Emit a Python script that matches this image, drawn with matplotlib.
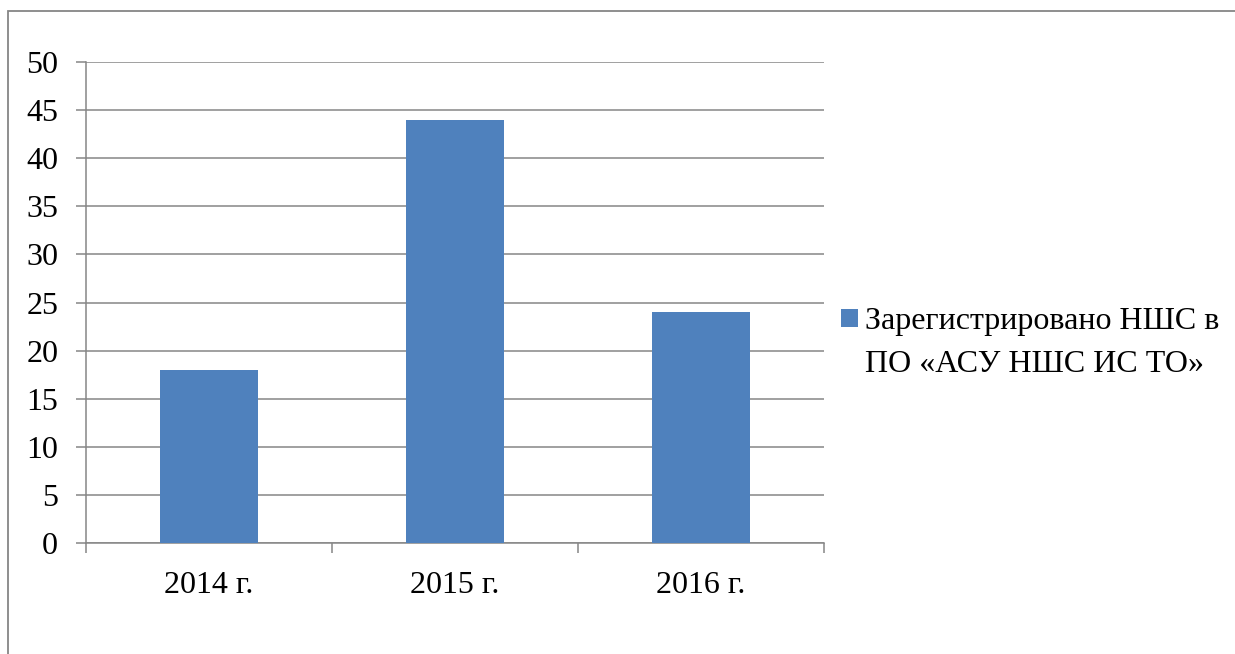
import matplotlib.pyplot as plt
from matplotlib.patches import Rectangle

categories = ["2014 г.", "2015 г.", "2016 г."]
values = [18, 44, 24]
series_label = ["Зарегистрировано НШС в", "ПО «АСУ НШС ИС ТО»"]
y_ticks = list(range(0, 55, 5))

plt.rcParams["font.family"] = ["Liberation Serif", "DejaVu Serif"]

grid_color = "#868686"
bar_color = "#4F81BD"
fs = 23

fig = plt.figure(figsize=(12.35, 6.54), dpi=100)
ax = fig.add_axes([86 / 1235, 111 / 654, 738 / 1235, 481 / 654])

x = list(range(len(categories)))
bars = ax.bar(x, values, width=0.4, color=bar_color, zorder=3)

ax.set_xlim(-0.5, len(categories) - 0.5)
ax.set_ylim(0, 50)
ax.set_yticks(y_ticks)
ax.set_yticklabels([str(t) for t in y_ticks], fontsize=fs)
ax.yaxis.grid(True, color=grid_color, linewidth=1.1, zorder=0)

# category labels in the middle, tick marks on the boundaries
ax.set_xticks(x)
ax.set_xticklabels(categories, fontsize=fs)
ax.tick_params(axis="x", which="major", length=0, pad=20)
ax.set_xticks([i - 0.5 for i in range(len(categories) + 1)], minor=True)
ax.tick_params(axis="x", which="minor", length=7, width=1.1, color=grid_color, direction="out")
ax.tick_params(axis="y", length=7, width=1.1, color=grid_color, direction="out", pad=13)

for side in ["top", "right"]:
    ax.spines[side].set_visible(False)
for side in ["left", "bottom"]:
    ax.spines[side].set_color(grid_color)
    ax.spines[side].set_linewidth(1.1)

# legend: marker sits on the first line, second line continues below
leg = ax.legend(
    [bars],
    [series_label[0]],
    loc="center left",
    bbox_to_anchor=(841 / 1235, 1 - 322 / 654),
    bbox_transform=fig.transFigure,
    frameon=False,
    fontsize=fs,
    handlelength=0.52,
    handleheight=0.52,
    handletextpad=0.22,
    borderaxespad=0,
    borderpad=0,
)
fig.canvas.draw()
t0 = leg.get_texts()[0]
bb = t0.get_window_extent()
fig.text(bb.x0, bb.y0 - 42, series_label[1], fontsize=fs, transform=None, va="bottom", ha="left")

# outer chart border (only top and left visible in the crop)
fig.patches.append(
    Rectangle((8 / 1235, -0.1), 1.2, 1 - 11 / 654 + 0.1, transform=fig.transFigure,
              fill=False, edgecolor=grid_color, linewidth=1.3)
)

fig.savefig("out.png", dpi=100)
